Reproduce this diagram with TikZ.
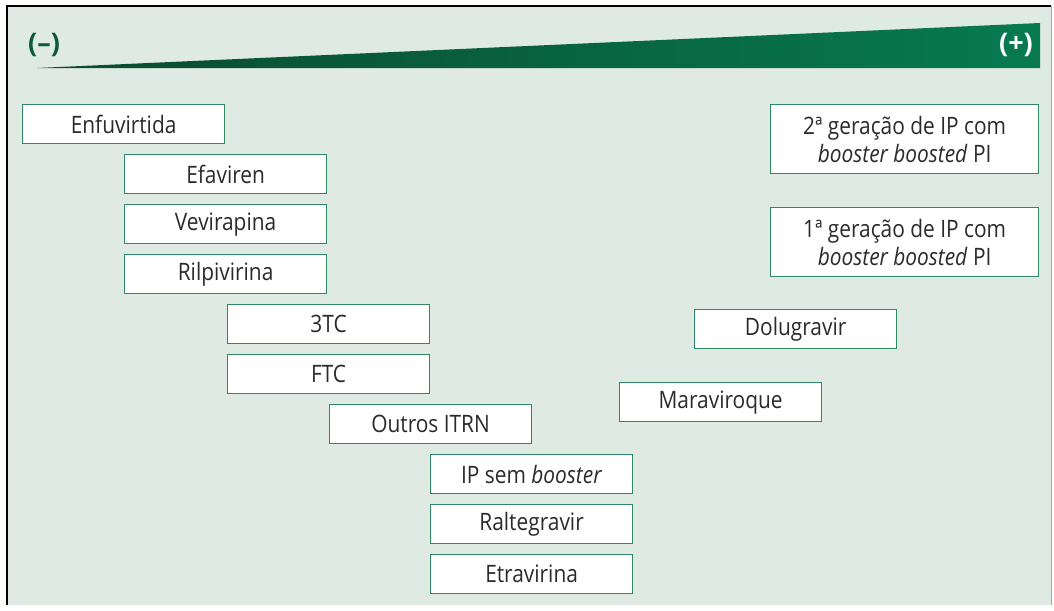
\documentclass[tikz,border=0pt]{standalone}
\usepackage{fontspec}
\setmainfont{Open Sans}[FakeStretch=0.87]
\newfontfamily\signfont{Open Sans}
\definecolor{bggreen}{HTML}{E0EAE4}
\definecolor{boxgreen}{HTML}{2F8A63}
\definecolor{signgreen}{HTML}{0C5A3A}
\definecolor{wedgedark}{HTML}{0A4A2F}
\definecolor{wedgelight}{HTML}{077A52}
\definecolor{txtgray}{HTML}{2B2B2B}
\usetikzlibrary{calc}

\begin{document}
\begin{tikzpicture}[x=1pt,y=-1pt,
  drug/.style={draw=boxgreen,line width=1.2pt,fill=white,minimum width=202pt,
    minimum height=39pt,anchor=north west,inner sep=0pt,text=txtgray,
    font=\fontsize{24}{28}\selectfont},
  ipbox/.style={drug,minimum width=268pt,minimum height=69pt,align=center},
  sign/.style={font=\signfont\fontsize{27}{27}\selectfont\bfseries}]
\useasboundingbox (0,0) rectangle (1054,610);
\fill[bggreen] (7,6) rectangle (1051,605);
\draw[line width=2pt] (7,605)--(7,6)--(1051,6);
\draw[gray!70,line width=1pt] (1051,6)--(1051,605);

% wedge
\coordinate (W1) at (37,68);
\coordinate (W2) at (1040,23);
\coordinate (W3) at (1040,68);
\shade[left color=wedgedark,right color=wedgelight] (W1)--(W2)--(W3)--cycle;
\node[sign,text=signgreen] (minus) at (44,45) {(–)};
\node[sign,text=white] (plus) at (1016,45) {(+)};

% drugs
\foreach \x/\y/\name/\txt in {22/104/enf/Enfuvirtida,124/154/efa/Efaviren,
    124/204/vev/Vevirapina,124/254/ril/Rilpivirina,227/304/tc/3TC,
    227/354/ftc/FTC,329/404/itrn/Outros ITRN,
    430/454/ipsem/{IP sem \textit{booster}},430/504/ral/Raltegravir,
    430/554/etr/Etravirina,694/309/dol/Dolugravir,619/382/mar/Maraviroque}
  \node[drug] (\name) at (\x,\y) {\txt};

\node[ipbox] (ip2) at (770,104) {2ª geração de IP com\\\textit{booster boosted} PI};
\node[ipbox] (ip1) at (770,207) {1ª geração de IP com\\\textit{booster boosted} PI};
\end{tikzpicture}
\end{document}
